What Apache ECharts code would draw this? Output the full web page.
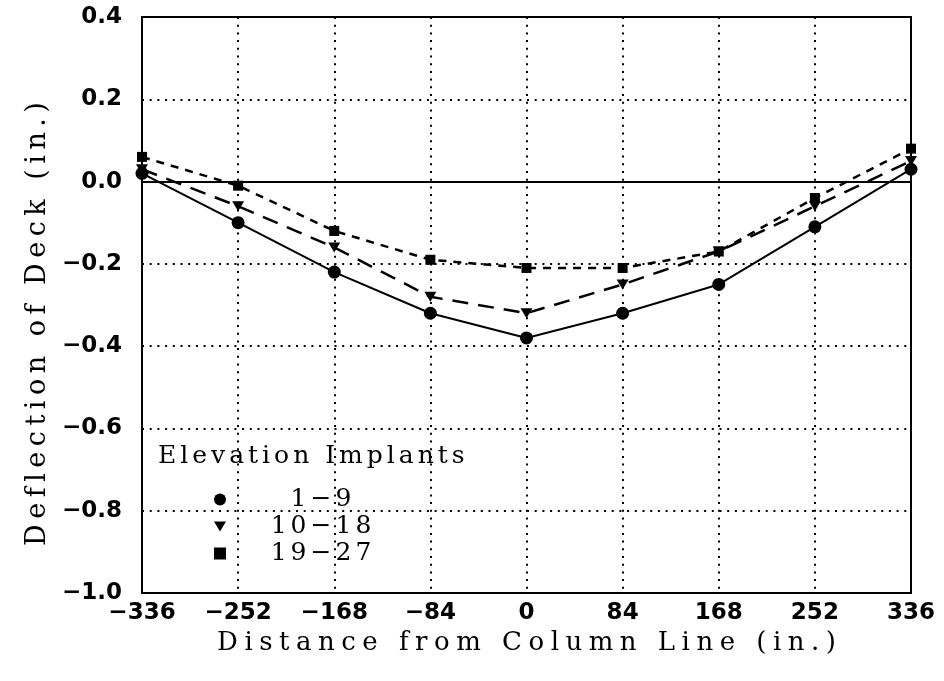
<!DOCTYPE html>
<html>
<head>
<meta charset="utf-8">
<script src="https://cdn.jsdelivr.net/npm/echarts@6/dist/echarts.min.js"></script>
<style>
  html, body { margin: 0; padding: 0; background: #fff; }
  #chart { width: 944px; height: 681px; }
</style>
</head>
<body>
<div id="chart"></div>
<script>
// Distance from column line (in.)
const distances = [-336, -252, -168, -84, 0, 84, 168, 252, 336];

// Deck deflection (in.) for each group of elevation implants
const implants1to9   = [0.02, -0.10, -0.22, -0.32, -0.38, -0.32, -0.25, -0.11, 0.03];
const implants10to18 = [0.03, -0.06, -0.16, -0.28, -0.32, -0.25, -0.17, -0.06, 0.05];
const implants19to27 = [0.06, -0.01, -0.12, -0.19, -0.21, -0.21, -0.17, -0.04, 0.08];

const seriesNames = ['1−9', '10−18', '19−27'];
const legendTitle = 'Elevation Implants';
const xAxisTitle = 'Distance from Column Line (in.)';
const yAxisTitle = 'Deflection of Deck (in.)';

// axis ranges
const xMin = -336, xMax = 336, xStep = 84;
const yMin = -1.0, yMax = 0.4, yStep = 0.2;

// Wide, evenly spaced lettering for the serif captions: those captions
// (picked out by font size) are painted glyph by glyph with extra spacing.
(function () {
  const proto = CanvasRenderingContext2D.prototype;
  const fill = proto.fillText;
  const spacing = { '27px': 5.5, '26px': 6.5, '25px': 4 };
  proto.fillText = function (text, x, y, maxWidth) {
    const m = /\d+px/.exec(this.font || '');
    const sp = m ? spacing[m[0]] : undefined;
    const chars = Array.from(String(text));
    if (!sp || chars.length < 2) {
      return maxWidth === undefined ? fill.call(this, text, x, y) : fill.call(this, text, x, y, maxWidth);
    }
    const widths = chars.map(c => this.measureText(c).width);
    const total = widths.reduce((a, b) => a + b, 0) + sp * (chars.length - 1);
    const align = this.textAlign;
    let cx = x;
    if (align === 'center') cx = x - total / 2;
    else if (align === 'right' || align === 'end') cx = x - total;
    this.textAlign = 'left';
    chars.forEach((c, i) => {
      fill.call(this, c, cx, y);
      cx += widths[i] + sp;
    });
    this.textAlign = align;
  };
})();

const serif = 'DejaVu Serif';
const downTriangle = 'path://M0,0L12,0L6,10Z';
const minus = s => String(s).replace('-', '−');
const pairs = ys => distances.map((x, i) => [x, ys[i]]);

const chart = echarts.init(document.getElementById('chart'), null, { renderer: 'canvas' });

const tickFont = { color: '#000', fontFamily: 'DejaVu Sans', fontWeight: 'bold', fontSize: 23 };
const dotted = { color: '#000', width: 2, type: [2, 5.7] };

chart.setOption({
  animation: false,
  backgroundColor: '#fff',
  grid: {
    left: 142, right: 33, top: 17, bottom: 88,
    show: true, borderColor: '#000', borderWidth: 2,
    containLabel: false, outerBoundsMode: 'none'
  },
  xAxis: {
    type: 'value', min: xMin, max: xMax, interval: xStep,
    name: xAxisTitle, nameLocation: 'middle', nameGap: 35,
    nameTextStyle: { color: '#000', fontFamily: serif, fontSize: 26 },
    axisLine: { show: false }, axisTick: { show: false },
    axisLabel: Object.assign({ margin: 9, formatter: v => minus(v) }, tickFont),
    splitLine: { show: true, showMinLine: false, showMaxLine: false, lineStyle: dotted }
  },
  yAxis: {
    type: 'value', min: yMin, max: yMax, interval: yStep,
    name: yAxisTitle, nameLocation: 'middle', nameGap: 90,
    nameTextStyle: { color: '#000', fontFamily: serif, fontSize: 27, padding: [0, 38, 0, 0] },
    axisLine: { show: false }, axisTick: { show: false },
    axisLabel: Object.assign({ margin: 20, formatter: v => minus(v.toFixed(1)) }, tickFont),
    splitLine: { show: true, showMinLine: false, showMaxLine: false, lineStyle: dotted }
  },
  legend: {
    orient: 'vertical', left: 209, top: 482,
    itemWidth: 12, itemHeight: 12, itemGap: 2,
    data: [
      { name: seriesNames[0], icon: 'circle' },
      { name: seriesNames[1], icon: downTriangle },
      { name: seriesNames[2], icon: 'rect' }
    ],
    formatter: '{t|{name}}',
    textStyle: {
      rich: { t: { width: 180, align: 'center', lineHeight: 26,
                   fontFamily: serif, fontSize: 25, color: '#000' } }
    }
  },
  graphic: [{
    type: 'text', left: 158, top: 444,
    style: { text: legendTitle, fontFamily: serif, fontSize: 25, fill: '#000' }
  }],
  series: [
    {
      name: seriesNames[0], type: 'line', data: pairs(implants1to9),
      symbol: 'circle', symbolSize: 13,
      itemStyle: { color: '#000' },
      lineStyle: { color: '#000', width: 2, type: 'solid' },
      markLine: {
        silent: true, symbol: 'none', label: { show: false },
        lineStyle: { color: '#000', width: 2, type: 'solid' },
        data: [{ yAxis: 0 }]
      },
      z: 3
    },
    {
      name: seriesNames[1], type: 'line', data: pairs(implants10to18),
      symbol: downTriangle, symbolSize: [12, 10],
      itemStyle: { color: '#000' },
      lineStyle: { color: '#000', width: 2.5, type: [16, 10] },
      z: 4
    },
    {
      name: seriesNames[2], type: 'line', data: pairs(implants19to27),
      symbol: 'rect', symbolSize: 10,
      itemStyle: { color: '#000' },
      lineStyle: { color: '#000', width: 2.5, type: [8, 7] },
      z: 5
    }
  ]
});
</script>
</body>
</html>
